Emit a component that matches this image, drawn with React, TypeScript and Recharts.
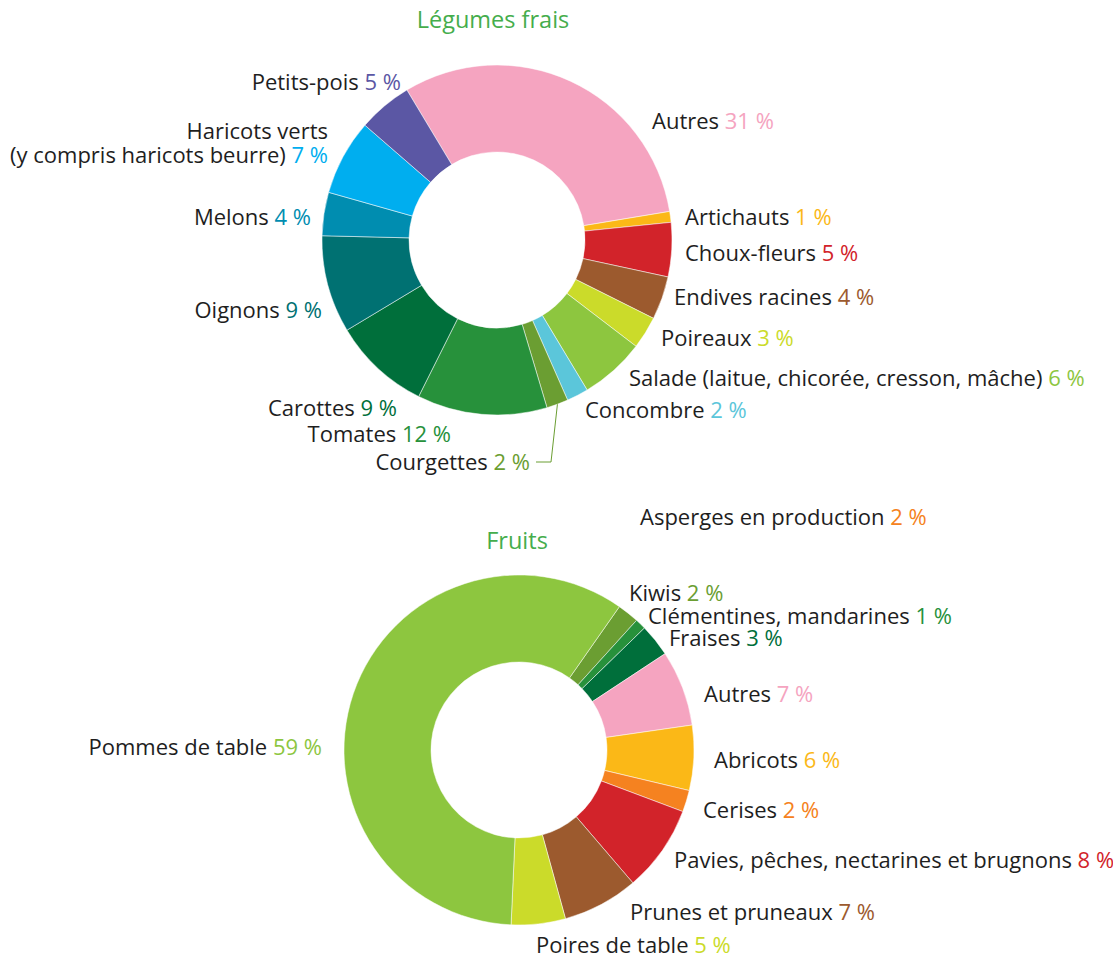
import React from 'react';
import { PieChart, Pie, Cell } from 'recharts';

// ---------- Légumes frais ----------
const vegNames = [
  'Autres',
  'Artichauts',
  'Choux-fleurs',
  'Endives racines',
  'Poireaux',
  'Salade (laitue, chicorée, cresson, mâche)',
  'Concombre',
  'Courgettes',
  'Tomates',
  'Carottes',
  'Oignons',
  'Melons',
  'Haricots verts\n(y compris haricots beurre)',
  'Petits-pois',
];
const vegValues = [31, 1, 5, 4, 3, 6, 2, 2, 12, 9, 9, 4, 7, 5];
const vegColors = [
  '#f5a4c0', '#fbb817', '#d2232a', '#9c5a2e', '#cbdb2a', '#8dc63f', '#5bc6da',
  '#6b9e32', '#27913b', '#006f3b', '#007172', '#008db0', '#00aeef', '#5b57a4',
];

// ---------- Fruits ----------
const fruitNames = [
  'Kiwis',
  'Clémentines, mandarines',
  'Fraises',
  'Autres',
  'Abricots',
  'Cerises',
  'Pavies, pêches, nectarines et brugnons',
  'Prunes et pruneaux',
  'Poires de table',
  'Pommes de table',
];
const fruitValues = [2, 1, 3, 7, 6, 2, 8, 7, 5, 59];
const fruitColors = [
  '#6b9e32', '#27913b', '#006f3b', '#f5a4c0', '#fbb817', '#f58220', '#d2232a',
  '#9c5a2e', '#cbdb2a', '#8dc63f',
];

const extraLabel = { name: 'Asperges en production', value: 2, color: '#f58220' };

// label layout (offsets of the label from the pie centre)
type LabelPos = { dx: number; dy: number; anchor: 'start' | 'end'; leader?: boolean };
const vegLabelLayout: LabelPos[] = [
  { dx: 155, dy: -119, anchor: 'start' },
  { dx: 188, dy: -23, anchor: 'start' },
  { dx: 188, dy: 13, anchor: 'start' },
  { dx: 177, dy: 57, anchor: 'start' },
  { dx: 164, dy: 98, anchor: 'start' },
  { dx: 132, dy: 138, anchor: 'start' },
  { dx: 88, dy: 170, anchor: 'start' },
  { dx: 33, dy: 222, anchor: 'end', leader: true },
  { dx: -46, dy: 194, anchor: 'end' },
  { dx: -100, dy: 168, anchor: 'end' },
  { dx: -175, dy: 70, anchor: 'end' },
  { dx: -186, dy: -23, anchor: 'end' },
  { dx: -169, dy: -85, anchor: 'end' },
  { dx: -96, dy: -158, anchor: 'end' },
];
const fruitLabelLayout: LabelPos[] = [
  { dx: 110, dy: -157, anchor: 'start' },
  { dx: 129, dy: -134, anchor: 'start' },
  { dx: 150, dy: -112, anchor: 'start' },
  { dx: 185, dy: -56, anchor: 'start' },
  { dx: 195, dy: 10, anchor: 'start' },
  { dx: 184, dy: 60, anchor: 'start' },
  { dx: 155, dy: 110, anchor: 'start' },
  { dx: 111, dy: 162, anchor: 'start' },
  { dx: 17, dy: 195, anchor: 'start' },
  { dx: -197, dy: -3, anchor: 'end' },
];

const FONT = '"Open Sans", sans-serif';
const FS = 22;
const TEXT = '#1e1e1e';
const TITLE = '#45ad4c';
const BASE = 7.8;
const LINE_H = 24;

const vegData = vegNames.map((n, i) => ({ name: n, value: vegValues[i] }));
const fruitData = fruitNames.map((n, i) => ({ name: n, value: fruitValues[i] }));

const RAD = Math.PI / 180;

function makeLabel(names: string[], values: number[], colors: string[], layout: LabelPos[]) {
  return (props: any) => {
    const { index, cx, cy, midAngle, outerRadius } = props;
    const L = layout[index];
    const x = cx + L.dx;
    const y = cy + L.dy;
    const lines = names[index].split('\n');
    const n = lines.length;
    let leader = null;
    if (L.leader) {
      const sx = cx + outerRadius * Math.cos(-midAngle * RAD);
      const sy = cy + outerRadius * Math.sin(-midAngle * RAD);
      leader = (
        <polyline
          points={`${sx},${sy} ${x + 21},${y} ${x + 6},${y}`}
          fill="none"
          stroke={colors[index]}
          strokeWidth={1}
        />
      );
    }
    return (
      <g key={`lbl-${index}`}>
        {leader}
        {lines.map((ln, i) => (
          <text
            key={i}
            x={x}
            y={y + BASE - (n - 1 - i) * LINE_H}
            textAnchor={L.anchor}
            fontFamily={FONT}
            fontSize={FS}
            fill={TEXT}
          >
            {ln}
            {i === n - 1 ? (
              <tspan fill={colors[index]}>{` ${values[index]}\u00a0%`}</tspan>
            ) : null}
          </text>
        ))}
      </g>
    );
  };
}

export default function App() {
  return (
    <div style={{ position: 'absolute', left: 0, top: 0, width: 1113, height: 957, background: '#fff' }}>
      <PieChart width={1113} height={957} margin={{ top: 0, right: 0, bottom: 0, left: 0 }}>
        <Pie
          data={vegData}
          dataKey="value"
          nameKey="name"
          cx={497}
          cy={240}
          innerRadius={88}
          outerRadius={175}
          startAngle={121}
          endAngle={-239}
          stroke="#ffffff"
          strokeWidth={0.5}
          isAnimationActive={false}
          labelLine={false}
          label={makeLabel(vegNames, vegValues, vegColors, vegLabelLayout)}
        >
          {vegData.map((d, i) => (
            <Cell key={d.name} fill={vegColors[i]} />
          ))}
        </Pie>
        <Pie
          data={fruitData}
          dataKey="value"
          nameKey="name"
          cx={519}
          cy={750}
          innerRadius={88}
          outerRadius={175}
          startAngle={55}
          endAngle={-305}
          stroke="#ffffff"
          strokeWidth={0.5}
          isAnimationActive={false}
          labelLine={false}
          label={makeLabel(fruitNames, fruitValues, fruitColors, fruitLabelLayout)}
        >
          {fruitData.map((d, i) => (
            <Cell key={d.name} fill={fruitColors[i]} />
          ))}
        </Pie>
      </PieChart>
      <svg width={1113} height={957} style={{ position: 'absolute', left: 0, top: 0, pointerEvents: 'none' }}>
        <text x={493} y={28} textAnchor="middle" fontFamily={FONT} fontSize={23.5} fill={TITLE}>
          Légumes frais
        </text>
        <text x={517} y={549} textAnchor="middle" fontFamily={FONT} fontSize={23.5} fill={TITLE}>
          Fruits
        </text>
        <text x={640} y={517 + BASE} textAnchor="start" fontFamily={FONT} fontSize={FS} fill={TEXT}>
          {extraLabel.name}
          <tspan fill={extraLabel.color}>{` ${extraLabel.value}\u00a0%`}</tspan>
        </text>
      </svg>
    </div>
  );
}
